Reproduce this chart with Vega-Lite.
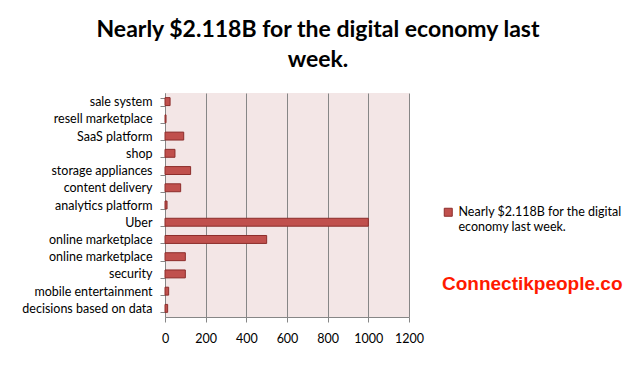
{
  "$schema": "https://vega.github.io/schema/vega-lite/v6.json",
  "width": 244,
  "height": 224,
  "autosize": "none",
  "padding": {"left": 165, "top": 93, "right": 231, "bottom": 50},
  "background": "white",
  "title": {
    "text": ["Nearly $2.118B for the digital economy last", "week."],
    "font": "Lato",
    "fontSize": 23,
    "fontWeight": "bold",
    "color": "#000000",
    "anchor": "middle",
    "dx": 31,
    "offset": 15,
    "lineHeight": 30
  },
  "data": {
    "values": [
      {"category": "sale system", "value": 25, "series": "Nearly $2.118B for the digital economy last week."},
      {"category": "resell marketplace", "value": 5, "series": "Nearly $2.118B for the digital economy last week."},
      {"category": "SaaS platform", "value": 92, "series": "Nearly $2.118B for the digital economy last week."},
      {"category": "shop", "value": 49, "series": "Nearly $2.118B for the digital economy last week."},
      {"category": "storage appliances", "value": 126, "series": "Nearly $2.118B for the digital economy last week."},
      {"category": "content delivery", "value": 77, "series": "Nearly $2.118B for the digital economy last week."},
      {"category": "analytics platform", "value": 10, "series": "Nearly $2.118B for the digital economy last week."},
      {"category": "Uber", "value": 1000, "series": "Nearly $2.118B for the digital economy last week."},
      {"category": "online marketplace", "value": 500, "series": "Nearly $2.118B for the digital economy last week."},
      {"category": "online marketplace\u200b", "value": 100, "series": "Nearly $2.118B for the digital economy last week."},
      {"category": "security", "value": 100, "series": "Nearly $2.118B for the digital economy last week."},
      {"category": "mobile entertainment", "value": 18, "series": "Nearly $2.118B for the digital economy last week."},
      {"category": "decisions based on data", "value": 13, "series": "Nearly $2.118B for the digital economy last week."}
    ]
  },
  "mark": {"type": "bar", "stroke": "#8c2d2b", "strokeWidth": 1},
  "encoding": {
    "y": {
      "field": "category",
      "type": "nominal",
      "sort": null,
      "title": null,
      "scale": {"paddingInner": 0.54, "paddingOuter": 0.27},
      "axis": {
        "tickBand": "extent",
        "tickSize": 5,
        "tickColor": "#868686",
        "domainColor": "#868686",
        "labelFont": "Lato",
        "labelFontSize": 12.5,
        "labelColor": "#000000",
        "labelPadding": 8,
        "labelLimit": 300,
        "grid": false
      }
    },
    "x": {
      "field": "value",
      "type": "quantitative",
      "title": null,
      "scale": {"domain": [0, 1200], "nice": false},
      "axis": {
        "values": [0, 200, 400, 600, 800, 1000, 1200],
        "format": "d",
        "grid": true,
        "gridColor": "#868686",
        "gridOpacity": 1,
        "tickSize": 5,
        "tickColor": "#868686",
        "domainColor": "#868686",
        "labelFont": "Lato",
        "labelFontSize": 12.5,
        "labelColor": "#000000",
        "labelPadding": 10,
        "labelFlush": false
      }
    },
    "color": {
      "field": "series",
      "type": "nominal",
      "scale": {"range": ["#c0504d"]},
      "legend": {
        "orient": "none",
        "legendX": 277,
        "legendY": 113,
        "symbolType": "square",
        "symbolSize": 64,
        "symbolStrokeColor": "#8c2d2b",
        "symbolStrokeWidth": 1,
        "labelFont": "Lato",
        "labelFontSize": 12.5,
        "labelColor": "#000000",
        "labelLimit": 300,
        "labelExpr": "['Nearly $2.118B for the digital', 'economy last week.']",
        "title": "Connectikpeople.co",
        "titleOrient": "bottom",
        "titleFont": "Liberation Sans",
        "titleFontWeight": "bold",
        "titleFontSize": 19,
        "titleColor": "#ff1a00",
        "titlePadding": 42,
        "titleLimit": 300
      }
    }
  },
  "config": {
    "view": {"fill": "#f3e6e6", "stroke": null}
  }
}
